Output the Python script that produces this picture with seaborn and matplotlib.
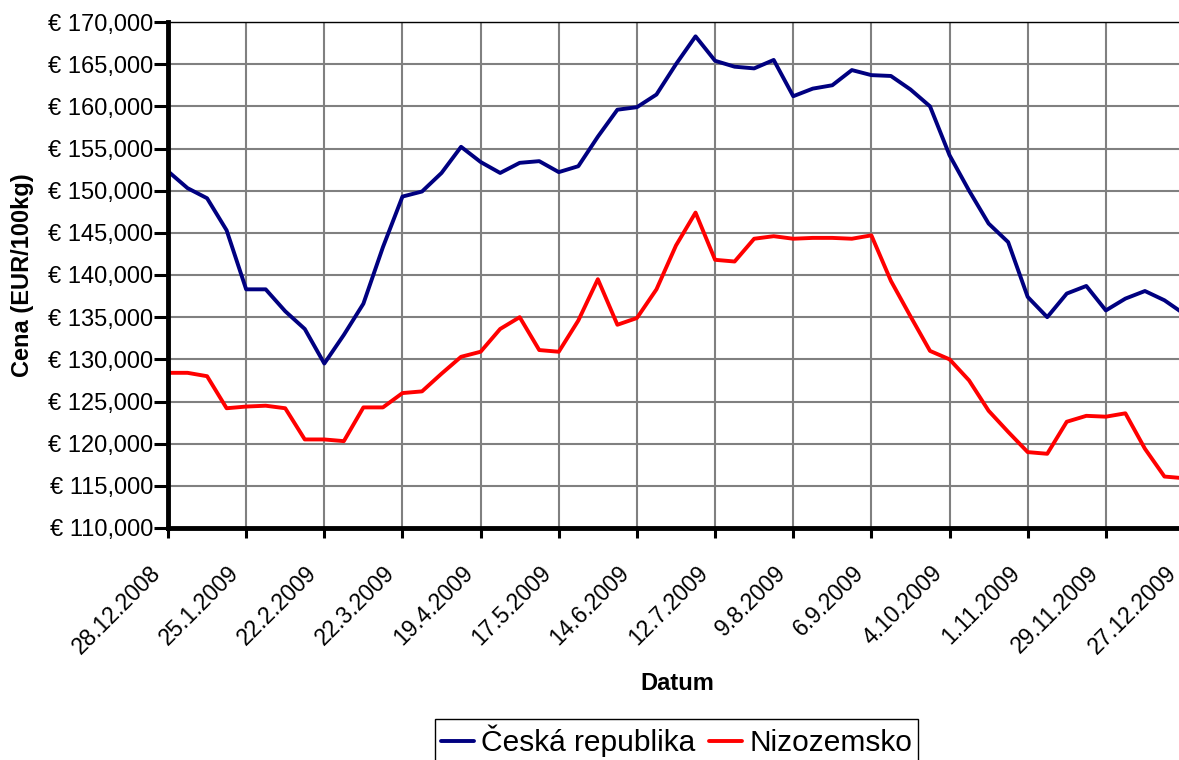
import pandas as pd
import matplotlib
matplotlib.use("Agg")
import matplotlib.pyplot as plt
import matplotlib.ticker as mticker
import matplotlib.transforms as mtransforms
import seaborn as sns

# týdenní data 28.12.2008 - 27.12.2009
start_date = "2008-12-28"
n_weeks = 53

ceska_republika = [
    152300, 150300, 149100, 145300, 138300, 138300, 135700, 133600, 129500, 132900,
    136600, 143300, 149300, 149900, 152100, 155200, 153400, 152100, 153300, 153500,
    152200, 152900, 156400, 159600, 159900, 161400, 165000, 168300, 165400, 164700,
    164500, 165500, 161200, 162100, 162500, 164300, 163700, 163600, 162000, 160000,
    154200, 150000, 146100, 143900, 137400, 135000, 137800, 138700, 135800, 137200,
    138100, 137000, 135400,
]
nizozemsko = [
    128400, 128400, 128000, 124200, 124400, 124500, 124200, 120500, 120500, 120300,
    124300, 124300, 126000, 126200, 128300, 130300, 130900, 133600, 135000, 131100,
    130900, 134600, 139500, 134100, 134900, 138300, 143500, 147400, 141800, 141600,
    144300, 144600, 144300, 144400, 144400, 144300, 144700, 139300, 135100, 131000,
    130000, 127500, 123900, 121400, 119000, 118800, 122600, 123300, 123200, 123600,
    119400, 116100, 115900,
]
tick_labels = [
    "28.12.2008", "25.1.2009", "22.2.2009", "22.3.2009", "19.4.2009", "17.5.2009",
    "14.6.2009", "12.7.2009", "9.8.2009", "6.9.2009", "4.10.2009", "1.11.2009",
    "29.11.2009", "27.12.2009",
]
series_names = ["Česká republika", "Nizozemsko"]
colors = {"Česká republika": "#000080", "Nizozemsko": "#ff0000"}

dates = pd.date_range(start_date, periods=n_weeks, freq="7D")
df = pd.concat([
    pd.DataFrame({"Datum": dates, "Cena": ceska_republika, "Země": series_names[0]}),
    pd.DataFrame({"Datum": dates, "Cena": nizozemsko, "Země": series_names[1]}),
])

sns.set_theme(style="white")
plt.rcParams["font.family"] = ["Liberation Sans", "DejaVu Sans"]
plt.rcParams.update({
    "text.color": "black",
    "axes.labelcolor": "black",
    "xtick.color": "black",
    "ytick.color": "black",
})

fig = plt.figure(figsize=(11.79, 7.6), dpi=100)
ax = fig.add_axes([168 / 1179, 1 - 528 / 760, (1184 - 168) / 1179, (528 - 22) / 760])

sns.lineplot(data=df, x="Datum", y="Cena", hue="Země", palette=colors,
             linewidth=2.8, sort=False, ax=ax)

ax.set_xlim(dates[0], dates[-1])
ax.set_ylim(110000, 170000)
ax.yaxis.set_major_locator(mticker.MultipleLocator(5000))
ax.yaxis.set_major_formatter(mticker.FuncFormatter(lambda v, p: f"€ {v:,.0f}"))
ax.set_xticks(dates[::4])
ax.set_xticklabels(tick_labels)

ax.grid(True, color="#808080", linewidth=1.5)
ax.set_axisbelow(True)

for side in ["left", "bottom"]:
    ax.spines[side].set_linewidth(3.5)
    ax.spines[side].set_color("black")
ax.spines["top"].set_linewidth(1.0)
ax.spines["top"].set_color("black")
ax.spines["right"].set_visible(False)

ax.tick_params(axis="y", direction="out", length=10, width=2.2, pad=0.5,
               labelsize=17, left=True, colors="black")
ax.tick_params(axis="x", direction="out", length=7, width=2.2, pad=23,
               labelsize=16.5, bottom=True, colors="black")

# posun popisků osy x trochu doleva (jako v Excelu)
shift = mtransforms.ScaledTranslation(-0.11, 0.0, fig.dpi_scale_trans)
for lbl in ax.get_xticklabels():
    lbl.set_rotation(45)
    lbl.set_ha("right")
    lbl.set_va("center")
    lbl.set_rotation_mode("anchor")
    lbl.set_transform(lbl.get_transform() + shift)

ax.set_xlabel("Datum", fontsize=17, fontweight="bold", color="black")
ax.set_ylabel("Cena (EUR/100kg)", fontsize=17, fontweight="bold", color="black")
ax.xaxis.label.set_va("center")
ax.yaxis.label.set_va("center")
ax.xaxis.set_label_coords(0.5 + 1 / 1016, (528 - 684) / 506)
ax.yaxis.set_label_coords((23 - 168) / 1016, 0.5)

handles, labels = ax.get_legend_handles_labels()
ax.legend_.remove()
leg = fig.legend(handles, labels, loc="upper center", ncol=2,
                 bbox_to_anchor=(676.5 / 1179, 1 - 719 / 760),
                 fontsize=21.5, frameon=True, fancybox=False, framealpha=1,
                 edgecolor="black", borderpad=0.2, handlelength=1.1,
                 handletextpad=0.25, columnspacing=0.45, borderaxespad=0)
leg.get_frame().set_linewidth(1.0)
for t in leg.get_texts():
    t.set_color("black")

fig.savefig("out.png", dpi=100)
